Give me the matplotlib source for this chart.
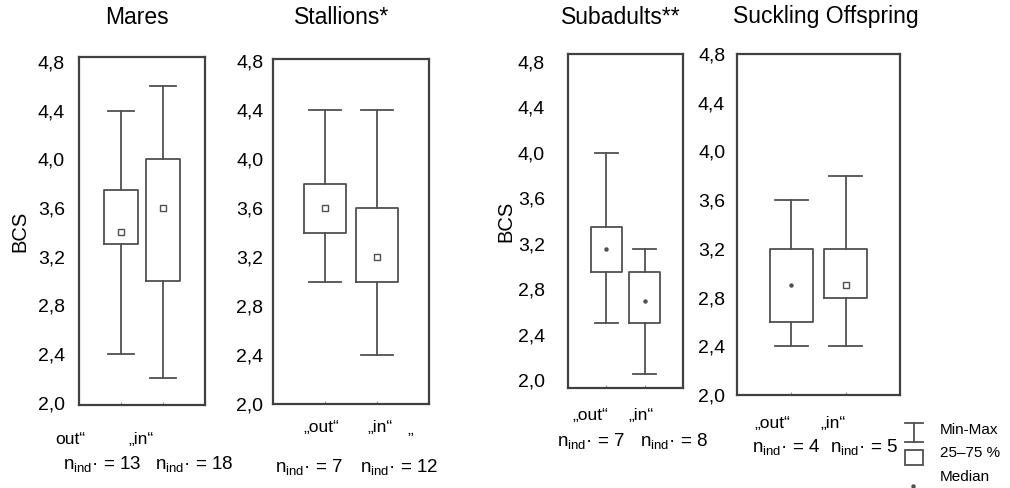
import matplotlib
matplotlib.use("Agg")
import matplotlib.pyplot as plt
from matplotlib.patches import Rectangle

plt.rcParams['font.family'] = 'Liberation Sans'
plt.rcParams['mathtext.fontset'] = 'custom'
plt.rcParams['mathtext.rm'] = 'Liberation Sans'

# BCS summaries per group: min, q1, median, q3, max for "out" and "in"
groups = ["Mares", "Stallions*", "Subadults**", "Suckling Offspring"]
mares_out = [2.4, 3.3, 3.4, 3.75, 4.4]
mares_in = [2.2, 3.0, 3.6, 4.0, 4.6]
stallions_out = [3.0, 3.4, 3.6, 3.8, 4.4]
stallions_in = [2.4, 3.0, 3.2, 3.6, 4.4]
subadults_out = [2.5, 2.95, 3.15, 3.35, 4.0]
subadults_in = [2.05, 2.5, 2.7, 2.95, 3.15]
suckling_out = [2.4, 2.6, 2.9, 3.2, 3.6]
suckling_in = [2.4, 2.8, 2.9, 3.2, 3.8]
n_out = [13, 7, 7, 4]
n_in = [18, 12, 8, 5]
yticks = [2.0, 2.4, 2.8, 3.2, 3.6, 4.0, 4.4, 4.8]

W, H = 1010, 488
fig = plt.figure(figsize=(W / 100, H / 100), dpi=100)
LC = '#505050'


def px_axes(left, top, right, bottom):
    return fig.add_axes([left / W, 1 - bottom / H, (right - left) / W, (bottom - top) / H])


def ftext(x, y, s, **kw):
    kw.setdefault('ha', 'left')
    kw.setdefault('va', 'center')
    kw.setdefault('fontsize', 12.5)
    fig.text(x / W, 1 - y / H, s, **kw)


def stats(vals):
    lo, q1, med, q3, hi = vals
    return dict(whislo=lo, q1=q1, med=med, q3=q3, whishi=hi, fliers=[])


def panel(box, data, ylim, tickpad, marker_styles):
    ax = px_axes(*box)
    st = [stats(d) for d in data]
    line = dict(color=LC, linewidth=1.3)
    ax.bxp(st, positions=[1, 2], widths=0.8, capwidths=0.6, showfliers=False,
           boxprops=line, whiskerprops=line, capprops=line,
           medianprops=dict(linewidth=0))
    for pos, d, (mk, ms, fc) in zip([1, 2], data, marker_styles):
        ax.plot(pos, d[2], marker=mk, ms=ms, mfc=fc, mec=LC, mew=1, color=LC)
    ax.set_xlim(0, 3)
    ax.set_ylim(*ylim)
    ax.set_yticks(yticks)
    ax.set_yticklabels([f"{t:.1f}".replace('.', ',') for t in yticks])
    ax.tick_params(axis='y', length=0, pad=tickpad, labelsize=14)
    ax.set_xticks([1, 2])
    ax.set_xticklabels([])
    ax.tick_params(axis='x', direction='in', length=2, color='#999999')
    for s in ax.spines.values():
        s.set_color('#404040')
        s.set_linewidth(1.6)
    return ax


hollow = ('s', 4, 'white')
dot = ('o', 2.2, LC)

ax1 = panel((79, 57, 205, 405), [mares_out, mares_in], (1.98, 4.84), 10, [hollow, hollow])
ax2 = panel((273, 59, 429, 404), [stallions_out, stallions_in], (2.0, 4.82), 7, [hollow, hollow])
ax3 = panel((568, 54, 683, 388), [subadults_out, subadults_in], (1.93, 4.87), 16.5, [dot, dot])
ax4 = panel((737, 54, 900, 395), [suckling_out, suckling_in], (2.0, 4.8), 8.5, [dot, hollow])

ax1.set_ylabel("BCS", fontsize=14.5, labelpad=6)
ax3.set_ylabel("BCS", fontsize=14.5, labelpad=2)

# group titles
for x, title in zip([137, 342, 621, 826], groups):
    ftext(x, 17, title, ha='center', fontsize=16.5)

# category labels under each panel
ftext(55, 440, "out\u201c")
ftext(128, 440, "\u201ein\u201c")
ftext(303, 427, "\u201eout\u201c")
ftext(367, 427, "\u201ein\u201c")
ftext(407, 430, "\u201e")
ftext(572, 415, "\u201eout\u201c")
ftext(628, 415, "\u201ein\u201c")
ftext(754, 423, "\u201eout\u201c")
ftext(820, 423, "\u201ein\u201c")

# sample sizes
n_pos = [((63, 465), (155, 465)), ((275, 468), (360, 468)),
         ((557, 442), (640, 442)), ((752, 448), (830, 448))]
n_fmt = r"n$_{\mathrm{ind}}$" + "\u00b7 = %d"
for (po, pi), no, ni in zip(n_pos, n_out, n_in):
    ftext(po[0], po[1], n_fmt % no, fontsize=13.5)
    ftext(pi[0], pi[1], n_fmt % ni, fontsize=13.5)

# legend drawn in pixel space
lg = px_axes(895, 415, 1010, 488)
lg.set_xlim(895, 1010)
lg.set_ylim(488, 415)
lg.axis('off')
lg.plot([905, 923], [423, 423], color=LC, lw=1.3)
lg.plot([905, 923], [442, 442], color=LC, lw=1.3)
lg.plot([914, 914], [423, 442], color=LC, lw=1.3)
lg.add_patch(Rectangle((905, 450), 18, 15, fill=False, ec=LC, lw=1.3))
lg.plot(913, 486, marker='o', ms=2.2, color=LC, clip_on=False)
lg.text(940, 430, "Min-Max", va='center', fontsize=11)
lg.text(940, 453, "25\u201375 %", va='center', fontsize=11)
lg.text(940, 477, "Median", va='center', fontsize=11)

fig.savefig("out.png", dpi=100)
